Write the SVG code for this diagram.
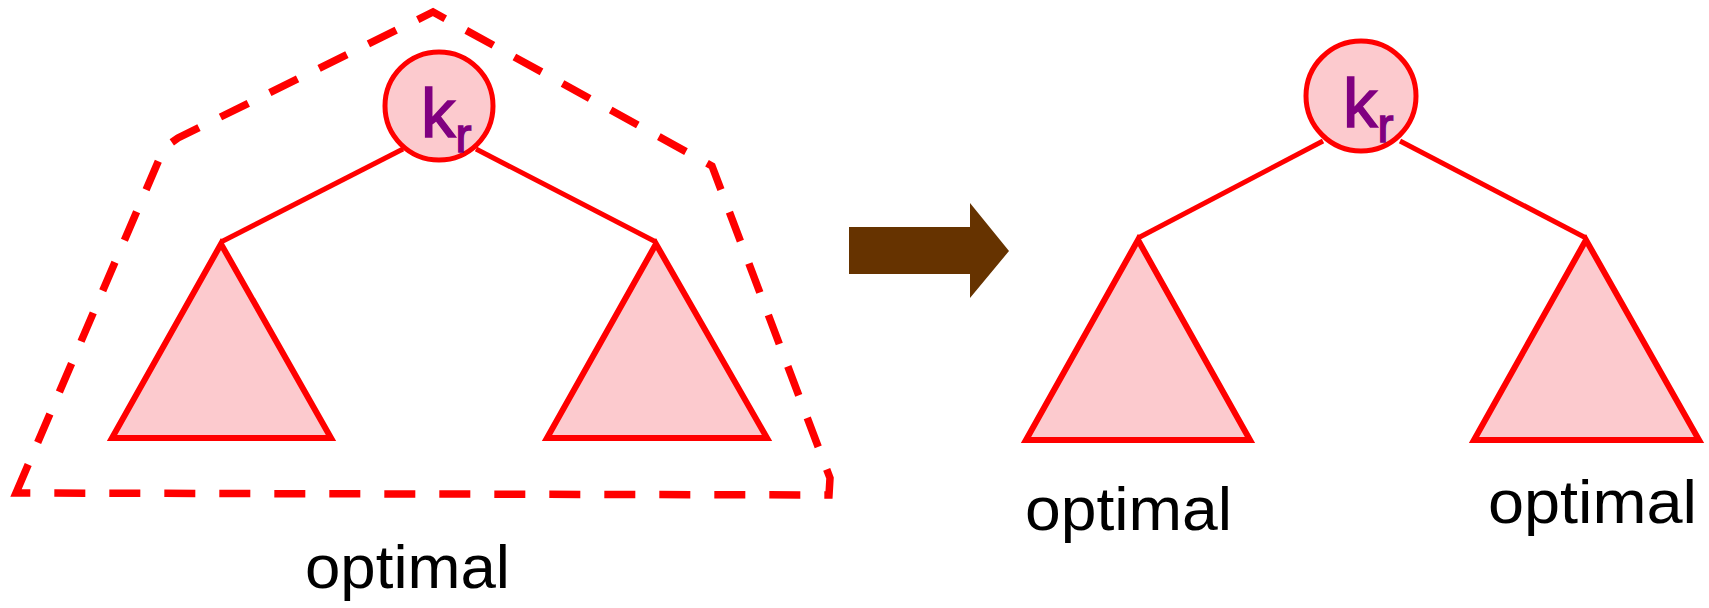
<svg xmlns="http://www.w3.org/2000/svg" width="1709" height="608" viewBox="0 0 1709 608">
  <style>
    .node { fill: #FCCACE; stroke: #FF0000; stroke-width: 5; }
    .tri { fill: #FCCACE; stroke: #FF0000; stroke-width: 6; stroke-linejoin: miter; }
    .edge { stroke: #FF0000; stroke-width: 5; fill: none; }
    .dash { fill: none; stroke: #FF0000; stroke-width: 7.5; stroke-dasharray: 31 24; }
    .key { font-family: "Liberation Sans", Arial, sans-serif; fill: #800080; stroke: #800080; stroke-width: 1.5; }
    .lbl { font-family: "Liberation Sans", Arial, sans-serif; font-size: 62px; fill: #000000; }
  </style>
  <rect width="1709" height="608" fill="#FFFFFF"/>

  <g id="boundary">
    <path class="dash" d="M 16,493 L 164,148 L 178,138 L 433,12 L 712,166 L 830,478 L 829,495 Z"/>
  </g>

  <g id="connectors">
    <line class="edge" x1="403" y1="149" x2="221" y2="242"/>
    <line class="edge" x1="476" y1="149" x2="656" y2="242"/>
    <line class="edge" x1="1323" y1="141" x2="1138" y2="238"/>
    <line class="edge" x1="1400" y1="141" x2="1586" y2="238"/>
  </g>

  <g id="left-root">
    <circle class="node" cx="439" cy="106" r="54"/>
    <text class="key" x="421" y="137" font-size="69">k<tspan font-size="48" dx="0" dy="15">r</tspan></text>
  </g>
  <g id="left-subtree-l">
    <polygon class="tri" points="221,244 112,438 331,438"/>
  </g>
  <g id="left-subtree-r">
    <polygon class="tri" points="656,244 547,438 767,438"/>
  </g>
  <g id="left-label">
    <text class="lbl" x="305" y="588" textLength="205" lengthAdjust="spacingAndGlyphs">optimal</text>
  </g>

  <g id="arrow">
    <polygon points="849,227 970,227 970,203 1009,251 970,298 970,274 849,274" fill="#663300"/>
  </g>

  <g id="right-root">
    <circle class="node" cx="1361" cy="96" r="55"/>
    <text class="key" x="1343" y="127" font-size="69">k<tspan font-size="48" dx="0" dy="15">r</tspan></text>
  </g>
  <g id="right-subtree-l">
    <polygon class="tri" points="1138,240 1026,440 1250,440"/>
  </g>
  <g id="right-subtree-r">
    <polygon class="tri" points="1586,240 1474,440 1699,440"/>
  </g>
  <g id="right-label-l">
    <text class="lbl" x="1025" y="530" textLength="207" lengthAdjust="spacingAndGlyphs">optimal</text>
  </g>
  <g id="right-label-r">
    <text class="lbl" x="1488" y="523" textLength="209" lengthAdjust="spacingAndGlyphs">optimal</text>
  </g>
</svg>
